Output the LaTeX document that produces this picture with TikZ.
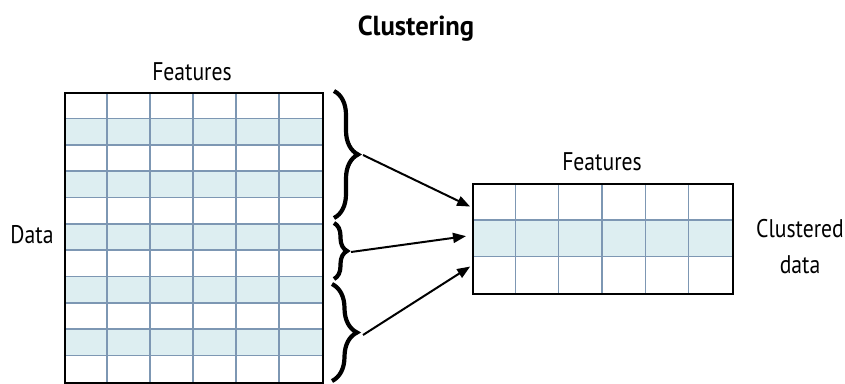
\documentclass[tikz,border=0pt]{standalone}
\usepackage{graphicx}
\usepackage{fontspec}
\setmainfont{PT Sans}
\usetikzlibrary{decorations.pathreplacing,arrows.meta}
\definecolor{cellblue}{HTML}{DDEEF1}
\definecolor{gridline}{HTML}{7D97B3}
\newcommand{\narrowtxt}[1]{\scalebox{0.85}[1]{#1}}
\tikzset{
  lbl/.style={font=\fontsize{25.5}{28}\selectfont, inner sep=0pt, anchor=base},
  ttl/.style={font=\fontsize{27.5}{30}\selectfont\bfseries, inner sep=0pt, anchor=base},
  gridln/.style={draw=gridline, line width=1.6pt},
  border/.style={draw=black, line width=2pt},
  bracestyle/.style={decorate, decoration={brace, amplitude=#1}, line width=4.2pt},
  arr/.style={-{Triangle[length=13pt,width=10pt]}, line width=2pt, shorten >=1pt},
}
\begin{document}
\begin{tikzpicture}[x=1pt,y=-1pt]
\useasboundingbox (0,0) rectangle (845,383);
% left grid
\foreach \r in {1,3,5,7,9} {
  \fill[cellblue] (64,{92+\r*26.36}) rectangle (322,{92+(\r+1)*26.36});
}
\foreach \r in {1,...,10} \draw[gridln] (64,{92+\r*26.36}) -- (322,{92+\r*26.36});
\foreach \c in {1,...,5} \draw[gridln] ({64+\c*43},92) -- ({64+\c*43},382);
\node[border, minimum width=258pt, minimum height=290pt, anchor=north west, inner sep=0pt] (lg) at (64,92) {};
% right grid
\fill[cellblue] (472,219.7) rectangle (732,256.3);
\foreach \y in {219.7,256.3} \draw[gridln] (472,\y) -- (732,\y);
\foreach \c in {1,...,5} \draw[gridln] ({472+\c*43.33},183) -- ({472+\c*43.33},293);
\node[border, minimum width=260pt, minimum height=110pt, anchor=north west, inner sep=0pt] (rg) at (472,183) {};
% labels
\node[ttl] (title) at (416,35) {\scalebox{0.97}[1]{Clustering}};
\node[lbl] (featL) at (192,80) {\narrowtxt{Features}};
\node[lbl] (data) at (32,243) {\narrowtxt{Data}};
\node[lbl] (featR) at (602,170) {\narrowtxt{Features}};
\node[lbl] (clus1) at (800,237) {\narrowtxt{Clustered}};
\node[lbl] (clus2) at (800,273) {\narrowtxt{data}};
% braces
\draw[bracestyle=24] (334,91) -- (334,218);
\draw[bracestyle=13] (334,223) -- (334,279);
\draw[bracestyle=25] (332,284) -- (332,381);
\coordinate (t1) at (363,155);
\coordinate (t2) at (351,252);
\coordinate (t3) at (363,335);
\coordinate (e1) at (471,207);
\coordinate (e2) at (467,236);
\coordinate (e3) at (471,266);
\draw[arr] (t1) -- (e1);
\draw[arr] (t2) -- (e2);
\draw[arr] (t3) -- (e3);
\end{tikzpicture}
\end{document}
